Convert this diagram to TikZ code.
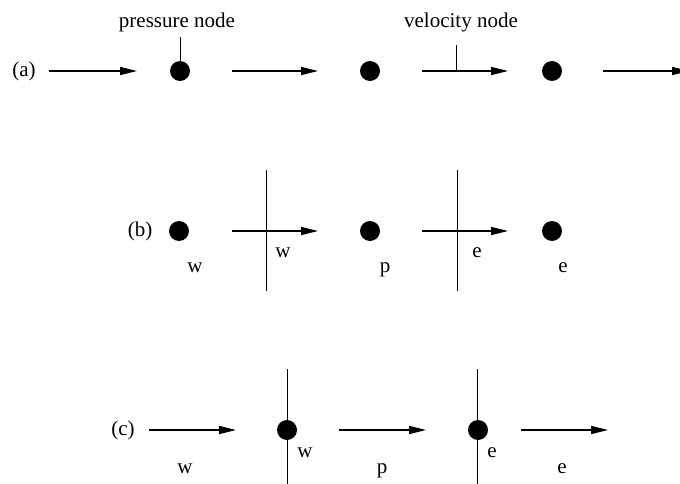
\documentclass[tikz,border=0pt]{standalone}
\usepackage{fontspec}
\setmainfont{Liberation Serif}
\usetikzlibrary{arrows.meta}
\begin{document}
\begin{tikzpicture}[x=1pt,y=-1pt,
  every node/.style={font=\fontsize{21}{25}\selectfont, inner sep=0pt},
  dot/.style={circle, fill=black, minimum size=20pt, inner sep=0pt},
  flow/.style={line width=1.3pt, -{Triangle[length=17pt,width=8pt]}},
  face/.style={line width=1pt},
  lbl/.style={anchor=base}]
\useasboundingbox (0,0) rectangle (680,484);
\clip (0,0) rectangle (680,484);
\fill[white] (0,0) rectangle (680,484);

% ---- row (a)
\node (la) at (24,71) {(a)};
\node[dot] (a1) at (180,71) {};
\node[dot] (a2) at (370,71) {};
\node[dot] (a3) at (552,71) {};
\coordinate (a0s) at (49,71);  \coordinate (a0e) at (137,71);
\coordinate (a1s) at (232,71); \coordinate (a1e) at (318,71);
\coordinate (a2s) at (422,71); \coordinate (a2e) at (508,71);
\coordinate (a3s) at (603,71); \coordinate (a3e) at (689,71);
\draw[flow] (a0s) -- (a0e);
\draw[flow] (a1s) -- (a1e);
\draw[flow] (a2s) -- (a2e);
\draw[flow] (a3s) -- (a3e);
\node (pn) at (177,22) {pressure node};
\node (vn) at (461,22) {velocity node};
\coordinate (pt) at (180,37);
\coordinate (vt) at (456,45);
\coordinate (vb) at (456,71);
\draw[face] (pt) -- (a1.north);
\draw[face] (vt) -- (vb);

% ---- row (b)
\node (lb) at (140,231) {(b)};
\node[dot] (b1) at (179,231) {};
\node[dot] (b2) at (370,231) {};
\node[dot] (b3) at (552,231) {};
\coordinate (b1s) at (232,231); \coordinate (b1e) at (318,231);
\coordinate (b2s) at (422,231); \coordinate (b2e) at (508,231);
\draw[flow] (b1s) -- (b1e);
\draw[flow] (b2s) -- (b2e);
\coordinate (fwt) at (266,170); \coordinate (fwb) at (266,291);
\coordinate (fet) at (457,170); \coordinate (feb) at (457,291);
\draw[face] (fwt) -- (fwb);
\draw[face] (fet) -- (feb);
\node[lbl] (bW) at (195,272) {w};
\node[lbl] (bw) at (283,257) {w};
\node[lbl] (bP) at (385,272) {p};
\node[lbl] (be) at (477,257) {e};
\node[lbl] (bE) at (563,272) {e};

% ---- row (c)
\node (lc) at (123,430) {(c)};
\node[dot] (c1) at (287,430) {};
\node[dot] (c2) at (478,430) {};
\coordinate (c0s) at (149,430); \coordinate (c0e) at (236,430);
\coordinate (c1s) at (339,430); \coordinate (c1e) at (426,430);
\coordinate (c2s) at (521,430); \coordinate (c2e) at (608,430);
\draw[flow] (c0s) -- (c0e);
\draw[flow] (c1s) -- (c1e);
\draw[flow] (c2s) -- (c2e);
\coordinate (gwt) at (287,369); \coordinate (gwb) at (287,492);
\coordinate (get) at (477,369); \coordinate (geb) at (477,492);
\draw[face] (gwt) -- (gwb);
\draw[face] (get) -- (geb);
\node[lbl] (cW) at (185,473) {w};
\node[lbl] (cw) at (305,457) {w};
\node[lbl] (cP) at (382,473) {p};
\node[lbl] (ce) at (492,457) {e};
\node[lbl] (cE) at (562,473) {e};
\end{tikzpicture}
\end{document}
